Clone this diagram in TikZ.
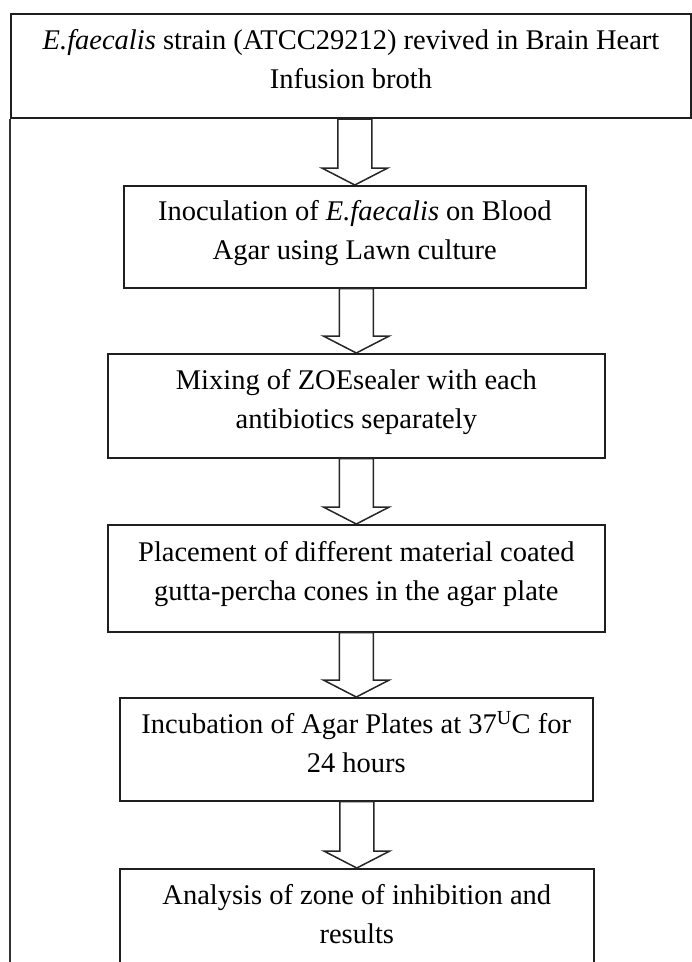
\documentclass[tikz,border=0pt]{standalone}
\usepackage{fontspec}
\setmainfont{Liberation Serif}
\usetikzlibrary{calc}
\newcommand\lastdepth{\rule[-14pt]{0pt}{0pt}}
\tikzset{
  stepbox/.style={draw=black!88, line width=1.6pt, inner sep=0pt, anchor=north west,
    align=center, font=\fontsize{28.5}{39}\selectfont},
  arrowline/.style={draw=black!85, line width=1.5pt, fill=white, line join=miter},
  frameline/.style={draw=black!80, line width=1.5pt}
}
\newcommand\flowarrow[2]{%
  \draw[arrowline] ($(#1.south -| #2.north)+(-17,0)$) -- ($(#2.north)+(-17,-17)$)
    -- ($(#2.north)+(-33,-17)$) -- (#2.north) -- ($(#2.north)+(33,-17)$)
    -- ($(#2.north)+(17,-17)$) -- ($(#1.south -| #2.north)+(17,0)$) -- cycle;}
\begin{document}
\begin{tikzpicture}[x=1pt,y=-1pt]
\useasboundingbox (0,0) rectangle (692,962);
\clip (0,0) rectangle (692,962);
\node[stepbox, line width=2pt, minimum width=680pt, minimum height=104pt] (n0) at (10,13)
  {\textit{E.faecalis} strain (ATCC29212) revived in Brain Heart\\Infusion broth\lastdepth};
\coordinate (frameend) at (10,962);
\draw[frameline] (n0.south west) -- (frameend);
\node[stepbox, minimum width=462pt, minimum height=102pt] (n1) at (123,185)
  {Inoculation of \textit{E.faecalis} on Blood\\Agar using Lawn culture\lastdepth};
\node[stepbox, minimum width=497pt, minimum height=104pt] (n2) at (107,353)
  {Mixing of ZOEsealer with each\\antibiotics separately\lastdepth};
\node[stepbox, minimum width=497pt, minimum height=107pt] (n3) at (107,524)
  {Placement of different material coated\\gutta-percha cones in the agar plate\lastdepth};
\node[stepbox, minimum width=473pt, minimum height=103pt] (n4) at (119,697)
  {Incubation of Agar Plates at 37\textsuperscript{U}C for\\24 hours\lastdepth};
\node[stepbox, minimum width=474pt, minimum height=104pt] (n5) at (119,868)
  {Analysis of zone of inhibition and\\results\lastdepth};
\flowarrow{n0}{n1}
\flowarrow{n1}{n2}
\flowarrow{n2}{n3}
\flowarrow{n3}{n4}
\flowarrow{n4}{n5}
\end{tikzpicture}
\end{document}
